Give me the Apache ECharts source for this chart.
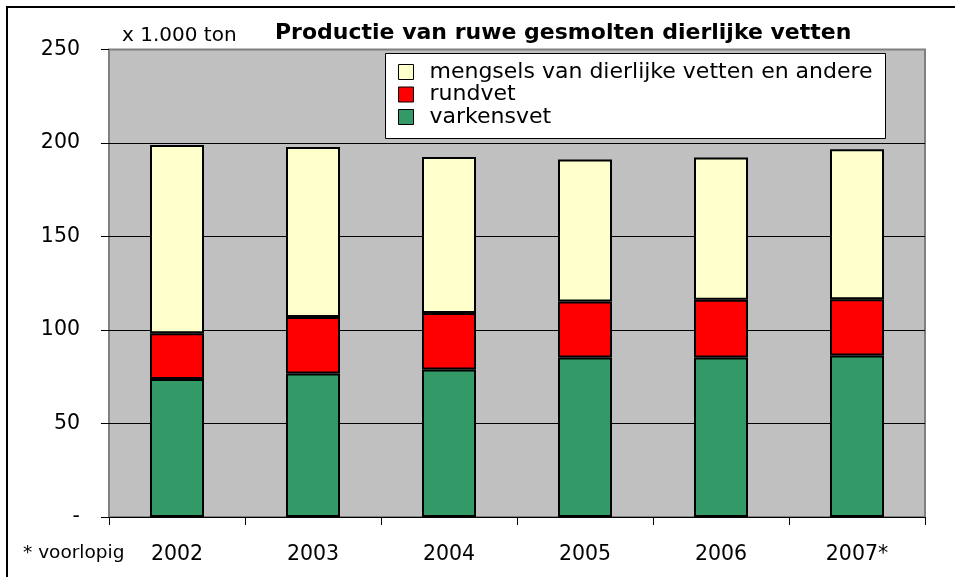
<!DOCTYPE html>
<html>
<head>
<meta charset="utf-8">
<script src="https://cdn.jsdelivr.net/npm/echarts@6/dist/echarts.min.js"></script>
<style>
html,body{margin:0;padding:0;background:#fff;}
#c{width:955px;height:577px;}
</style>
</head>
<body>
<div id="c"></div>
<script>
var categories = ['2002', '2003', '2004', '2005', '2006', '2007*'];
var varkensvet = [73.8, 76.8, 78.9, 85.3, 85.3, 86.4];
var rundvet = [24.4, 30.2, 30.2, 30.0, 30.9, 30.0];
var mengsels = [100.7, 90.9, 83.4, 75.9, 76.1, 80.2];
var yTicks = [0, 50, 100, 150, 200, 250];

var FONT = 'DejaVu Sans';
var chart = echarts.init(document.getElementById('c'), null, {renderer: 'canvas'});
var barBorder = {borderColor: '#000', borderWidth: 2};
chart.setOption({
  animation: false,
  backgroundColor: '#fff',
  title: {
    text: 'Productie van ruwe gesmolten dierlijke vetten',
    left: 270, top: 17,
    textStyle: {fontFamily: FONT, fontWeight: 'bold', fontSize: 22, color: '#000'}
  },
  grid: {
    left: 109, top: 49.5, right: 30, bottom: 60,
    show: true, backgroundColor: '#C0C0C0', borderColor: '#808080', borderWidth: 2
  },
  legend: {
    orient: 'vertical',
    left: 385, top: 53,
    padding: [8, 8, 15, 13],
    icon: 'rect',
    itemWidth: 15, itemHeight: 15, itemGap: 0.5,
    data: ['mengsels van dierlijke vetten en andere', 'rundvet', 'varkensvet'],
    itemStyle: {borderColor: '#000', borderWidth: 1},
    textStyle: {fontFamily: FONT, fontSize: 22, color: '#000', padding: [0, 0, 0, 11]},
    z: 10
  },
  xAxis: {
    type: 'category',
    data: categories,
    axisLine: {show: true, lineStyle: {color: '#000', width: 1}},
    axisTick: {show: true, length: 8, lineStyle: {color: '#000'}},
    axisLabel: {fontFamily: FONT, fontSize: 20.5, color: '#000', margin: 27}
  },
  yAxis: {
    type: 'value',
    min: yTicks[0], max: yTicks[yTicks.length - 1], interval: 50,
    axisLine: {show: false},
    axisTick: {show: true, length: 8, lineStyle: {color: '#000'}},
    axisLabel: {
      fontFamily: FONT, fontSize: 20.5, color: '#000', margin: 29,
      formatter: function (v) { return v === 0 ? '-' : String(v); }
    },
    splitLine: {show: true, showMaxLine: false, lineStyle: {color: '#000', width: 1}}
  },
  graphic: [
    {type: 'rect', shape: {x: 7, y: 7, width: 1000, height: 1000},
     style: {fill: 'none', stroke: '#000', lineWidth: 2}, z: 0, silent: true},
    {type: 'rect', shape: {x: 385.5, y: 53.5, width: 500, height: 85},
     style: {fill: '#fff', stroke: '#000', lineWidth: 1}, z: 5, silent: true},
    {type: 'text', x: 122, y: 36,
     style: {text: 'x 1.000 ton', font: '20px "DejaVu Sans"', fill: '#000', textVerticalAlign: 'middle'}, z: 6},
    {type: 'text', x: 23, y: 553,
     style: {text: '* voorlopig', font: '18.5px "DejaVu Sans"', fill: '#000', textVerticalAlign: 'middle'}, z: 6}
  ],
  series: [
    {name: 'varkensvet', type: 'bar', stack: 'a', barWidth: 54, data: varkensvet,
     itemStyle: Object.assign({color: '#339966'}, barBorder)},
    {name: 'rundvet', type: 'bar', stack: 'a', barWidth: 54, data: rundvet,
     itemStyle: Object.assign({color: '#FF0000'}, barBorder)},
    {name: 'mengsels van dierlijke vetten en andere', type: 'bar', stack: 'a', barWidth: 54, data: mengsels,
     itemStyle: Object.assign({color: '#FFFFCC'}, barBorder)}
  ]
});
</script>
</body>
</html>
